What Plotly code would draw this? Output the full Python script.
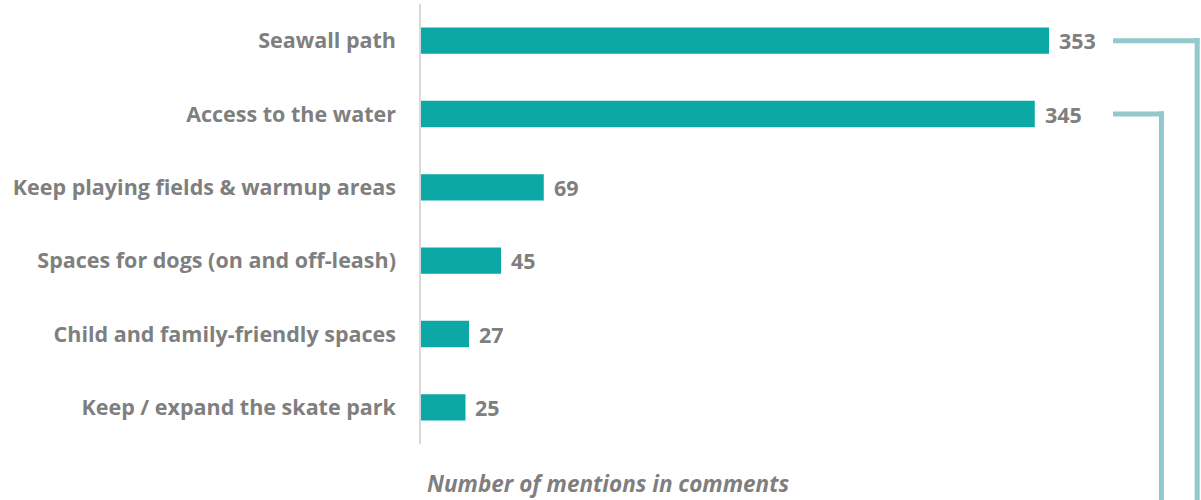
import plotly.graph_objects as go

categories = [
    "Seawall path",
    "Access to the water",
    "Keep playing fields & warmup areas",
    "Spaces for dogs (on and off-leash)",
    "Child and family-friendly spaces",
    "Keep / expand the skate park",
]
mentions = [353, 345, 69, 45, 27, 25]
axis_title = "Number of mentions in comments"

BAR = "#0CA8A5"
GRAY = "#7F7F7F"
BRACKET = "#93C8CC"
FONT = "Open Sans"
FS = 21.5

W, H = 1201, 500
ML, MR, MT, MB = 421, 0, 4, 56
px_per_unit = (1049 - 421) / 353.0
xmax = (W - ML - MR) / px_per_unit

fig = go.Figure()
fig.add_trace(go.Bar(
    x=mentions, y=categories, orientation="h",
    marker=dict(color=BAR, line=dict(width=0)),
    width=0.36, hoverinfo="skip",
))

for c, v in zip(categories, mentions):
    fig.add_annotation(x=v, y=c, xref="x", yref="y", text=f"<b>{v}</b>",
                       showarrow=False, xanchor="left", xshift=8,
                       font=dict(family=FONT, size=FS, color=GRAY))

# bracket connectors (decorative)
n = len(categories)
def paper_y(i):
    return 1 - (i + 0.5) / n

bracket_start = 389
bracket_ends = [436.3, 416.2]
bottom = -MB / (H - MT - MB) - 0.05
for i, xe in enumerate(bracket_ends):
    fig.add_shape(type="line", xref="x", yref="y", x0=bracket_start, x1=xe + 1.2,
                  y0=categories[i], y1=categories[i],
                  line=dict(color=BRACKET, width=5))
    fig.add_shape(type="line", xref="x", yref="paper", x0=xe, x1=xe,
                  y0=paper_y(i) + 0.006, y1=bottom,
                  line=dict(color=BRACKET, width=5))

fig.add_annotation(xref="paper", yref="paper", x=0, y=-(484 - (H - MB)) / (H - MT - MB),
                   xshift=4, xanchor="left", yanchor="middle", showarrow=False,
                   text=f"<b><i>{axis_title}</i></b>",
                   font=dict(family=FONT, size=22.5, color=GRAY))

fig.update_layout(
    width=W, height=H,
    margin=dict(l=ML, r=MR, t=MT, b=MB, pad=0, autoexpand=False),
    plot_bgcolor="white", paper_bgcolor="white",
    showlegend=False,
    xaxis=dict(range=[0, xmax], showgrid=False, zeroline=False,
               showticklabels=False, ticks="", showline=False, automargin=False),
    yaxis=dict(categoryorder="array", categoryarray=categories,
               autorange="reversed", showgrid=False, zeroline=False,
               showline=True, linecolor="#D9D9D9", linewidth=1.5,
               ticks="outside", ticklen=19, tickcolor="rgba(0,0,0,0)",
               automargin=False,
               tickfont=dict(family=FONT, size=FS, color=GRAY)),
)
fig.update_yaxes(tickprefix="<b>", ticksuffix="</b>")
fig.write_html("out.html", config={"displayModeBar": False},
               post_script="document.body.style.margin='0';")
